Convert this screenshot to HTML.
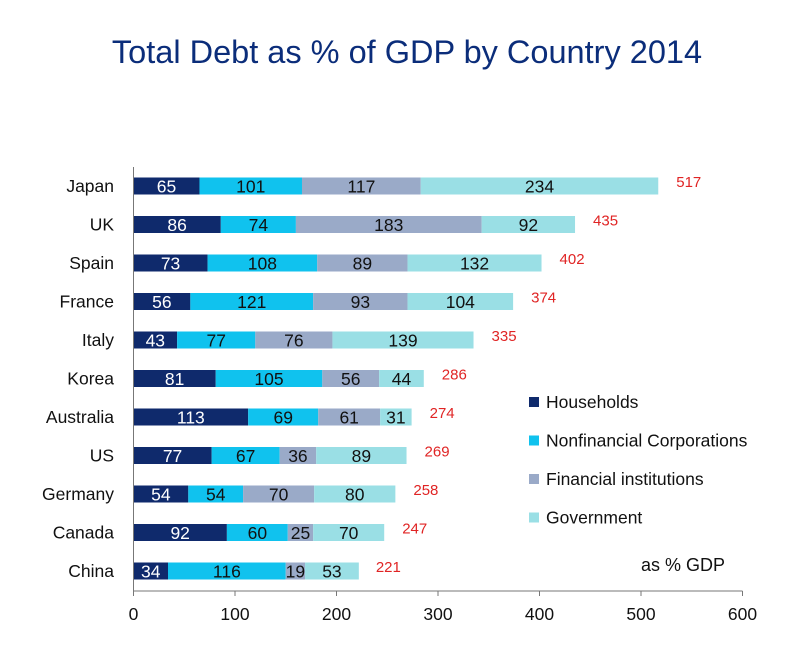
<!DOCTYPE html>
<html><head><meta charset="utf-8"><style>
body{margin:0;background:#fff;font-family:"Liberation Sans",sans-serif;}
svg text{font-family:"Liberation Sans",sans-serif;}
</style></head><body>
<svg width="786" height="650" id="c">
<text x="407" y="63" text-anchor="middle" font-size="32.5" fill="#0b2d7a">Total Debt as % of GDP by Country 2014</text>
</svg>
<script>
const countries=["Japan","UK","Spain","France","Italy","Korea","Australia","US","Germany","Canada","China"];
const households=[65,86,73,56,43,81,113,77,54,92,34];
const nonfin=[101,74,108,121,77,105,69,67,54,60,116];
const financial=[117,183,89,93,76,56,61,36,70,25,19];
const government=[234,92,132,104,139,44,31,89,80,70,53];
const totals=[517,435,402,374,335,286,274,269,258,247,221];
const ticks=[0,100,200,300,400,500,600];
const seriesNames=["Households","Nonfinancial Corporations","Financial institutions","Government"];
const colors=["#0f2a6c","#10c2ee","#9aaac8","#9adfe5"];
const textCols=["#fff","#111","#111","#111"];
const svg=document.getElementById('c');const NS="http://www.w3.org/2000/svg";
const x0=133.5,sc=1.015,y0=186,step=38.5,bh=17;
const X=v=>x0+v*sc, Y=i=>y0+i*step;
function el(t,a,txt){const e=document.createElementNS(NS,t);for(const k in a)e.setAttribute(k,a[k]);if(txt!==undefined)e.textContent=txt;svg.appendChild(e);return e;}
const series=[households,nonfin,financial,government];
countries.forEach((c,i)=>{
 let t=el('text',{x:114,y:Y(i)+6,'text-anchor':'end','font-size':17.5,fill:'#111'},c);
 
 
 let acc=0;
 series.forEach((s,k)=>{
  const v=s[i];
  let r=el('rect',{x:X(acc),y:Y(i)-bh/2,width:v*sc,height:bh,fill:colors[k]});
  
  
  let lt=el('text',{x:X(acc+v/2),y:Y(i)+6.5,'text-anchor':'middle','font-size':17.5,fill:textCols[k]},v);
  
  
  acc+=v;
 });
 let tt=el('text',{x:X(totals[i])+18,y:Y(i)+1,'font-size':15,fill:'#e02424'},totals[i]);
 
 
});
let ax=el('line',{x1:x0,y1:167,x2:x0,y2:591,stroke:'#777','stroke-width':1});


let bx=el('line',{x1:x0,y1:591,x2:X(600),y2:591,stroke:'#777','stroke-width':1});


ticks.forEach(v=>{
 let tk=el('line',{x1:X(v),y1:591,x2:X(v),y2:596,stroke:'#777'});
 
 
 let tl=el('text',{x:X(v),y:620,'text-anchor':'middle','font-size':17.5,fill:'#111'},v);
 
 
});
seriesNames.forEach((n,k)=>{
 const ly=402+k*38.5;
 let r=el('rect',{x:529,y:ly-5,width:10,height:10,fill:colors[k]});
 
 
 let t=el('text',{x:546,y:ly+6,'font-size':17.5,fill:'#111'},n);
 
 
});
let u=el('text',{x:641,y:571,'font-size':18,fill:'#111'},'as % GDP');


</script>
</body></html>
